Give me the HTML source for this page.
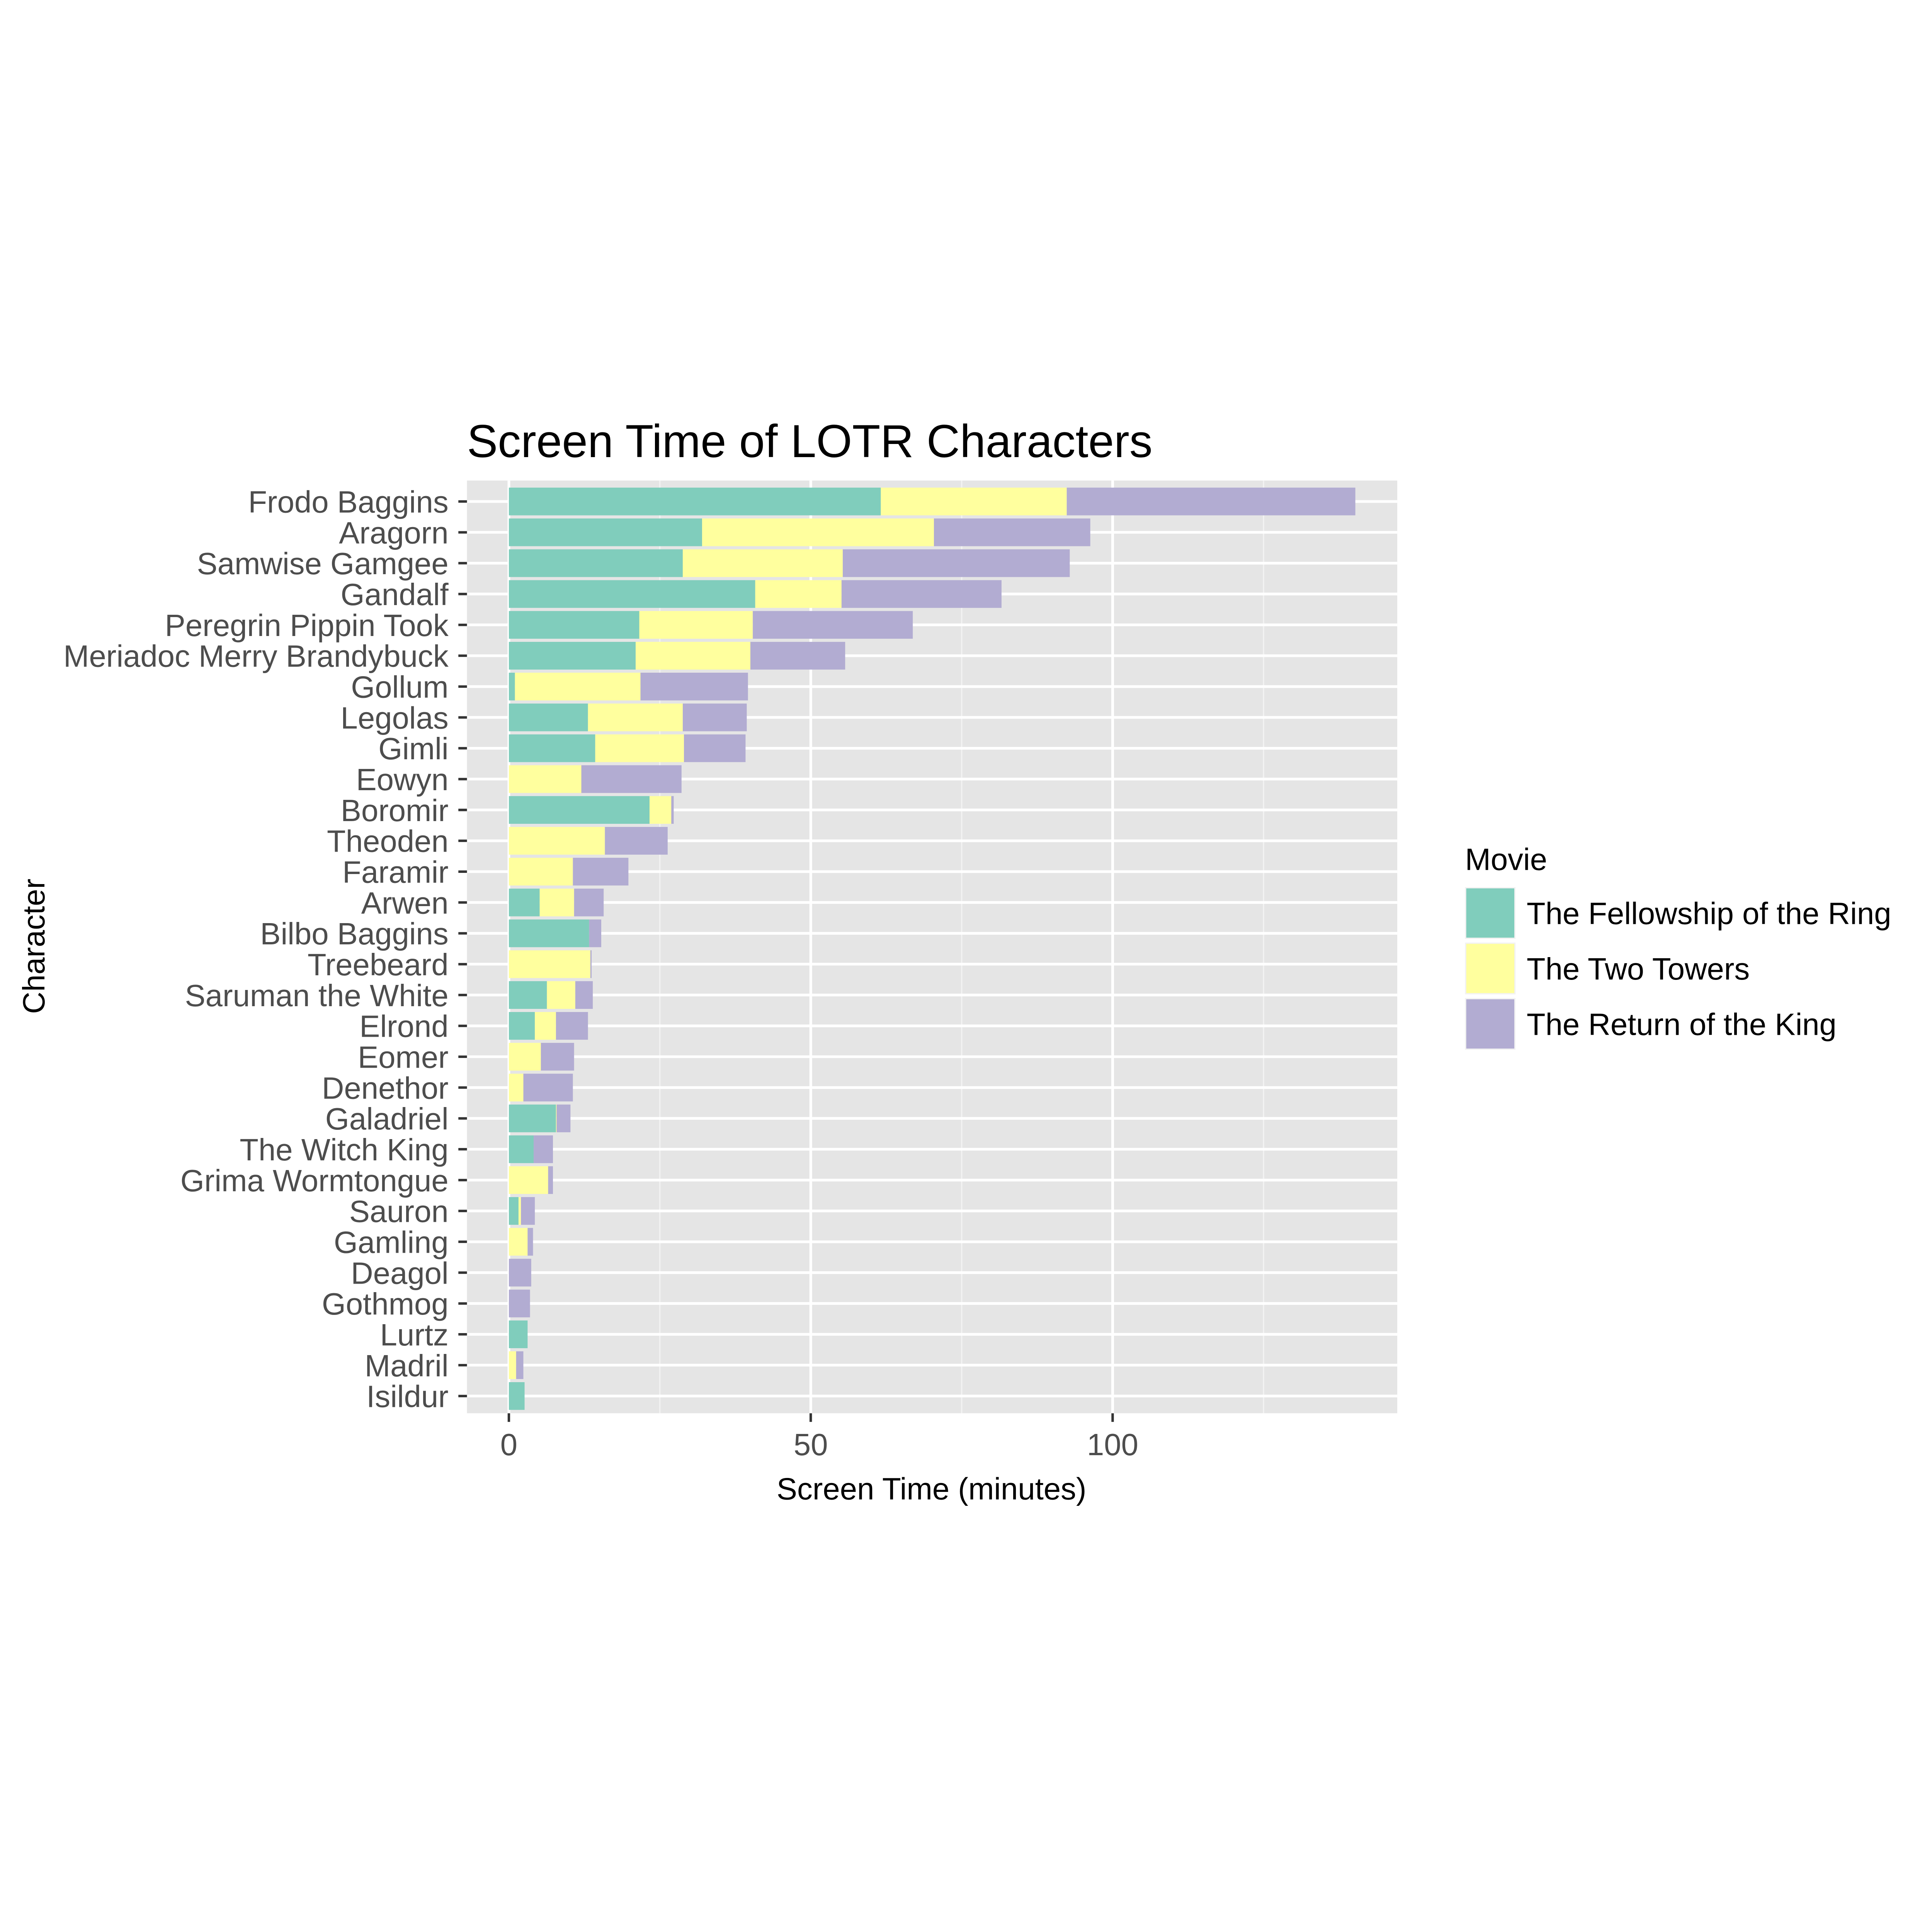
<!DOCTYPE html>
<html><head><meta charset="utf-8"><style>
html,body{margin:0;padding:0;background:#fff;overflow:hidden;width:100%;height:100%}
svg{display:block;position:fixed;left:0;top:0;width:100vw;height:100vh}
text{font-family:"Liberation Sans",Arial,sans-serif}
</style></head><body>
<svg id="chart" viewBox="0 0 1568 1568" preserveAspectRatio="none" xmlns="http://www.w3.org/2000/svg">
<rect width="1568" height="1568" fill="#fff"/>
<text x="379" y="371" font-size="37.5" fill="#000">Screen Time of LOTR Characters</text>
<rect x="379" y="390" width="755" height="757" fill="#e5e5e5"/>
<g id="grid"></g>
<g id="bars"></g>
<g id="yaxis"></g>
<g id="xaxis"></g>
<text x="756" y="1217" font-size="25" text-anchor="middle" fill="#000">Screen Time (minutes)</text>
<text transform="translate(36,768) rotate(-90)" font-size="25" text-anchor="middle" fill="#000">Character</text>
<g id="legend">
<text x="1189" y="706" font-size="25" fill="#000">Movie</text>
</g>
</svg>
<script>
const characters = ["Frodo Baggins","Aragorn","Samwise Gamgee","Gandalf","Peregrin Pippin Took","Meriadoc Merry Brandybuck","Gollum","Legolas","Gimli","Eowyn","Boromir","Theoden","Faramir","Arwen","Bilbo Baggins","Treebeard","Saruman the White","Elrond","Eomer","Denethor","Galadriel","The Witch King","Grima Wormtongue","Sauron","Gamling","Deagol","Gothmog","Lurtz","Madril","Isildur"];
const fellowship = [61.6,32.0,28.8,40.8,21.6,21.0,1.0,13.1,14.3,0,23.3,0,0,5.1,13.3,0,6.3,4.3,0,0,7.8,4.1,0,1.6,0,0,0,3.1,0,2.6];
const twoTowers = [30.8,38.4,26.5,14.3,18.8,19.0,20.8,15.7,14.7,12.0,3.6,15.9,10.6,5.7,0,13.5,4.7,3.5,5.3,2.4,0.1,0,6.5,0.4,3.1,0,0,0,1.2,0];
const returnKing = [47.8,25.9,37.6,26.5,26.5,15.7,17.8,10.6,10.2,16.6,0.4,10.4,9.2,4.9,2.0,0.2,2.9,5.3,5.5,8.2,2.3,3.2,0.8,2.3,0.9,3.7,3.5,0,1.2,0];
const xTicks = [0,50,100];
const xMinor = [25,75,125];
const seriesNames = ["The Fellowship of the Ring","The Two Towers","The Return of the King"];
const seriesColors = ["#80CDBC","#FFFF9E","#B2ACD2"];

const NS="http://www.w3.org/2000/svg";
const x0=413, pxPerMin=4.9, yTop=407, rowStep=(1133-407)/29, barH=22.5;
const xs=v=>x0+v*pxPerMin;
const ys=i=>yTop+i*rowStep;
function mk(tag,attrs,parent){const e=document.createElementNS(NS,tag);for(const k in attrs)e.setAttribute(k,attrs[k]);parent.appendChild(e);return e;}
const grid=document.getElementById('grid'),bars=document.getElementById('bars'),ya=document.getElementById('yaxis'),xa=document.getElementById('xaxis'),lg=document.getElementById('legend');

xMinor.forEach(v=>{const l=mk('line',{x1:xs(v),x2:xs(v),y1:390,y2:1147,stroke:'#f2f2f2','stroke-width':1.1},grid);

});
xTicks.forEach(v=>{const l=mk('line',{x1:xs(v),x2:xs(v),y1:390,y2:1147,stroke:'#fff','stroke-width':2.2},grid);


const t=mk('line',{x1:xs(v),x2:xs(v),y1:1147,y2:1154,stroke:'#333','stroke-width':2},xa);


const tx=mk('text',{x:xs(v),y:1181,'font-size':25,'text-anchor':'middle',fill:'#4d4d4d'},xa);tx.textContent=v;

});

characters.forEach((c,i)=>{const y=ys(i);
const g=mk('line',{x1:379,x2:1134,y1:y,y2:y,stroke:'#fff','stroke-width':2.2},grid);


const vals=[fellowship[i],twoTowers[i],returnKing[i]];let acc=0;
vals.forEach((v,s)=>{if(v>0){const r=mk('rect',{x:xs(acc),y:y-barH/2,width:v*pxPerMin,height:barH,fill:seriesColors[s]},bars);

}acc+=v;});
const tk=mk('line',{x1:372,x2:379,y1:y,y2:y,stroke:'#333','stroke-width':2},ya);


const t=mk('text',{x:364,y:y+9,'font-size':25,'text-anchor':'end',fill:'#4d4d4d'},ya);t.textContent=c;

});

seriesNames.forEach((n,s)=>{const cy=741+s*45;
const k=mk('rect',{x:1189,y:cy-21,width:41,height:42,fill:'#f2f2f2'},lg);


const r=mk('rect',{x:1190,y:cy-20,width:39,height:40,fill:seriesColors[s]},lg);


const t=mk('text',{x:1239,y:cy+9,'font-size':25,fill:'#000'},lg);t.textContent=n;

});
</script>
</body></html>
